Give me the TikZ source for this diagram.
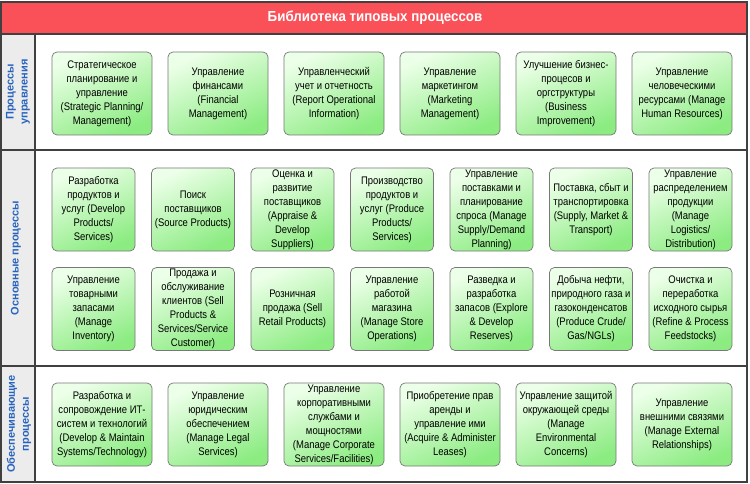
\documentclass[tikz,border=0pt]{standalone}
\usepackage{fontspec}
\setmainfont{Liberation Sans}
\newfontfamily\boxfont{Liberation Sans}[FakeStretch=0.86]
\newfontfamily\titlefont{Liberation Sans}[FakeStretch=0.92]
\usetikzlibrary{positioning}

\definecolor{titlered}{RGB}{250,80,88}
\definecolor{framegray}{RGB}{64,64,64}
\definecolor{sidegray}{RGB}{236,236,236}
\definecolor{sideblue}{RGB}{40,100,190}
\definecolor{boxlight}{RGB}{236,255,232}
\definecolor{boxdark}{RGB}{140,236,130}
\definecolor{boxedge}{RGB}{120,120,120}

\begin{document}
\begin{tikzpicture}[x=1pt,y=-1pt]
\tikzset{
  procbox/.style={rectangle,rounded corners=5pt,draw=boxedge,line width=0.7pt,
    top color=boxlight,bottom color=boxdark,shading angle=25,
    minimum height=83pt,inner sep=1pt,align=center,
    font=\boxfont\fontsize{11}{14}\selectfont},
  widebox/.style={procbox,minimum width=100pt},
  narrowbox/.style={procbox,minimum width=83pt},
  sidelabel/.style={rotate=90,align=center,text=sideblue,inner sep=0pt,
    font=\bfseries\fontsize{11}{14}\selectfont},
  frameline/.style={draw=framegray,line width=1.2pt}
}
\useasboundingbox (0,0) rectangle (750,484);
% frame and title
\fill[white] (1,2) rectangle (747,482);
\fill[sidegray] (1,34) rectangle (35,482);
\fill[titlered] (1,2) rectangle (747,34);
\draw[frameline] (1,2) rectangle (747,482);
\draw[frameline] (1,34) -- (747,34);
\draw[frameline] (1,150) -- (747,150);
\draw[frameline] (1,366) -- (747,366);
\draw[frameline] (35,34) -- (35,482);
\node[text=white,font=\titlefont\bfseries\fontsize{14.5}{16}\selectfont] (n_title) at (375,18) {Библиотека типовых процессов};
% side labels
\node[sidelabel] (n_side_mgmt) at (18,92) {Процессы\\управления};
\node[sidelabel] (n_side_core) at (16,258) {Основные процессы};
\node[sidelabel] (n_side_supp) at (19,424) {Обеспечивающие\\процессы};
% management processes
\node[widebox] (n_strat) at (102,93.5) {Стратегическое\\планирование и\\управление\\(Strategic Planning/\\Management)};
\node[widebox] (n_fin) at (218,93.5) {Управление\\финансами\\(Financial\\Management)};
\node[widebox] (n_report) at (334,93.5) {Управленческий\\учет и отчетность\\(Report Operational\\Information)};
\node[widebox] (n_mkt) at (450,93.5) {Управление\\маркетингом\\(Marketing\\Management)};
\node[widebox] (n_impr) at (566,93.5) {Улучшение бизнес-\\процесов и\\оргструктуры\\(Business\\Improvement)};
\node[widebox] (n_hr) at (682,93.5) {Управление\\человеческими\\ресурсами (Manage\\Human Resources)};
% core processes, first row
\node[narrowbox] (n_devprod) at (93.5,209.5) {Разработка\\продуктов и\\услуг (Develop\\Products/\\Services)};
\node[narrowbox] (n_source) at (193,209.5) {Поиск\\поставщиков\\(Source Products)};
\node[narrowbox] (n_apprsup) at (292.5,209.5) {Оценка и\\развитие\\поставщиков\\(Appraise \&\\Develop\\Suppliers)};
\node[narrowbox] (n_produce) at (392,209.5) {Производство\\продуктов и\\услуг (Produce\\Products/\\Services)};
\node[narrowbox] (n_supdem) at (491.5,209.5) {Управление\\поставками и\\планирование\\спроса (Manage\\Supply/Demand\\Planning)};
\node[narrowbox] (n_transp) at (591,209.5) {Поставка, сбыт и\\транспортировка\\(Supply, Market \&\\Transport)};
\node[narrowbox] (n_logist) at (690.5,209.5) {Управление\\распределением\\продукции\\(Manage\\Logistics/\\Distribution)};
% core processes, second row
\node[narrowbox] (n_invent) at (93.5,309) {Управление\\товарными\\запасами\\(Manage\\Inventory)};
\node[narrowbox] (n_sell) at (193,309) {Продажа и\\обслуживание\\клиентов (Sell\\Products \&\\Services/Service\\Customer)};
\node[narrowbox] (n_retail) at (292.5,309) {Розничная\\продажа (Sell\\Retail Products)};
\node[narrowbox] (n_store) at (392,309) {Управление\\работой\\магазина\\(Manage Store\\Operations)};
\node[narrowbox] (n_explore) at (491.5,309) {Разведка и\\разработка\\запасов (Explore\\\& Develop\\Reserves)};
\node[narrowbox] (n_crude) at (591,309) {Добыча нефти,\\природного газа и\\газоконденсатов\\(Produce Crude/\\Gas/NGLs)};
\node[narrowbox] (n_refine) at (690.5,309) {Очистка и\\переработка\\исходного сырья\\(Refine \& Process\\Feedstocks)};
% supporting processes
\node[widebox] (n_it) at (102,424.5) {Разработка и\\сопровождение ИТ-\\систем и технологий\\(Develop \& Maintain\\Systems/Technology)};
\node[widebox] (n_legal) at (218,424.5) {Управление\\юридическим\\обеспечением\\(Manage Legal\\Services)};
\node[widebox] (n_corp) at (334,424.5) {Управление\\корпоративными\\службами и\\мощностями\\(Manage Corporate\\Services/Facilities)};
\node[widebox] (n_lease) at (450,424.5) {Приобретение прав\\аренды и\\управление ими\\(Acquire \& Administer\\Leases)};
\node[widebox] (n_env) at (566,424.5) {Управление защитой\\окружающей среды\\(Manage\\Environmental\\Concerns)};
\node[widebox] (n_ext) at (682,424.5) {Управление\\внешними связями\\(Manage External\\Relationships)};
\end{tikzpicture}
\end{document}
